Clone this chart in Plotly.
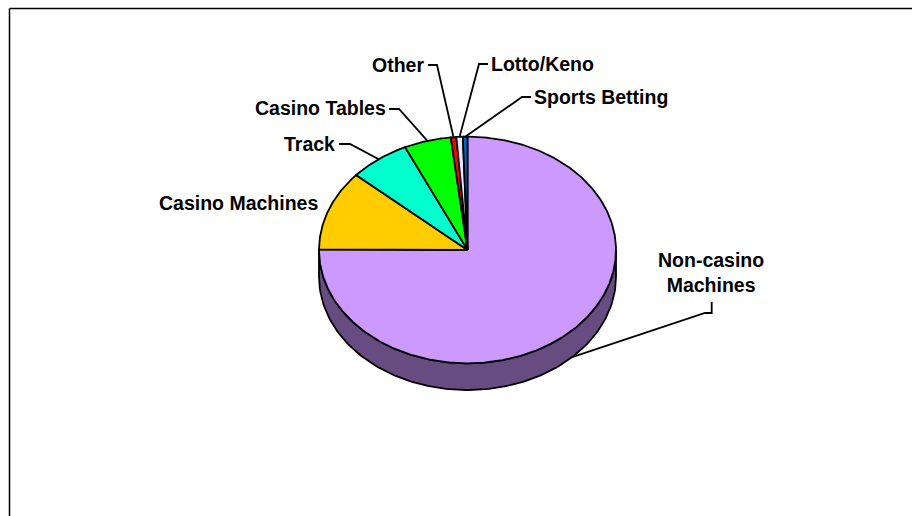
import numpy as np
import plotly.graph_objects as go

# Gaming revenue share by category (percent), clockwise from 12 o'clock
categories = ["Non-casino Machines", "Casino Machines", "Track", "Casino Tables",
              "Other", "Lotto/Keno", "Sports Betting"]
shares = [75.1, 11.4, 6.6, 5.1, 0.6, 0.7, 0.5]
top_colors = ["#CC99FF", "#FFCC00", "#00FFCC", "#00FF00", "#FF0000", "#E6E6FF", "#0066CC"]
side_colors = ["#664C80", "#806600", "#008066", "#008000", "#800000", "#737380", "#003366"]
label_texts = ["Non-casino<br>Machines", "Casino Machines", "Track", "Casino Tables",
               "Other", "Lotto/Keno", "Sports Betting"]

# Geometry of the tilted pie (pixel space, y grows downward)
W, H = 912, 516
cx, cy = 467.5, 250.0
rx, ry = 148.5, 113.3
depth = 26.7


def rim(theta_deg, drop=0.0):
    t = np.radians(theta_deg)
    return cx + rx * np.sin(t), cy - ry * np.cos(t) + drop


total = float(sum(shares))
bounds = np.concatenate([[0.0], np.cumsum(shares) / total * 360.0])

fig = go.Figure()

# Visible side wall (front half: 90..270 degrees)
for i in range(len(shares)):
    a0, a1 = max(bounds[i], 90.0), min(bounds[i + 1], 270.0)
    if a1 <= a0:
        continue
    ang = np.linspace(a0, a1, 120)
    xt, yt = rim(ang)
    xb, yb = rim(ang[::-1], depth)
    fig.add_trace(go.Scatter(
        x=np.concatenate([xt, xb, xt[:1]]), y=np.concatenate([yt, yb, yt[:1]]),
        mode="lines", fill="toself", fillcolor=side_colors[i],
        line=dict(color="black", width=1.8), hoverinfo="skip", showlegend=False))

# Top face slices
for i, cat in enumerate(categories):
    n = max(8, int((bounds[i + 1] - bounds[i]) * 2))
    ang = np.linspace(bounds[i], bounds[i + 1], n)
    xa, ya = rim(ang)
    fig.add_trace(go.Scatter(
        x=np.concatenate([[cx], xa, [cx]]), y=np.concatenate([[cy], ya, [cy]]),
        mode="lines", fill="toself", fillcolor=top_colors[i],
        line=dict(color="black", width=1.8), name=cat,
        hovertemplate=f"{cat}: {shares[i]}%<extra></extra>", showlegend=False))

# Label placement: text anchor, text side, and leader elbow points
label_pos = {
    "Non-casino Machines": dict(x=711, y=272, xanchor="center", elbow=[(705, 313), (711.7, 313), (711.7, 302)]),
    "Casino Machines": dict(x=320, y=203, xanchor="right", elbow=None),
    "Track": dict(x=337, y=144, xanchor="right", elbow=[(350, 144), (339, 144)]),
    "Casino Tables": dict(x=388, y=108, xanchor="right", elbow=[(399, 109), (389, 109)]),
    "Other": dict(x=426, y=65, xanchor="right", elbow=[(437, 65), (428, 65)]),
    "Lotto/Keno": dict(x=489, y=64, xanchor="left", elbow=[(479, 64), (488, 64)]),
    "Sports Betting": dict(x=532, y=97, xanchor="left", elbow=[(522, 97), (531, 97)]),
}

for i, cat in enumerate(categories):
    p = label_pos[cat]
    mid = (bounds[i] + bounds[i + 1]) / 2.0
    drop = depth if np.cos(np.radians(mid)) < 0 else 0.0
    ax_, ay_ = rim(mid, drop)
    if p["elbow"]:
        xs = [ax_] + [e[0] for e in p["elbow"]]
        ys = [ay_] + [e[1] for e in p["elbow"]]
        fig.add_trace(go.Scatter(x=xs, y=ys, mode="lines",
                                 line=dict(color="black", width=1.8),
                                 hoverinfo="skip", showlegend=False))
    fig.add_annotation(x=p["x"], y=p["y"], text=f"<b>{label_texts[i]}</b>",
                       showarrow=False, xanchor=p["xanchor"], yanchor="middle",
                       align="center",
                       font=dict(family="Liberation Sans, Arial, sans-serif",
                                 size=19.5, color="black"))

# Chart-area frame (left and top edges)
fig.add_shape(type="line", x0=9.5, y0=8.5, x1=W + 5, y1=8.5,
              line=dict(color="black", width=1.5), xref="x", yref="y")
fig.add_shape(type="line", x0=9.5, y0=8.5, x1=9.5, y1=H + 5,
              line=dict(color="black", width=1.5), xref="x", yref="y")

fig.update_layout(
    width=W, height=H, margin=dict(l=0, r=0, t=0, b=0),
    paper_bgcolor="white", plot_bgcolor="white",
    xaxis=dict(range=[0, W], visible=False, fixedrange=True),
    yaxis=dict(range=[H, 0], visible=False, fixedrange=True),
    showlegend=False,
)

fig.write_html("out.html")
